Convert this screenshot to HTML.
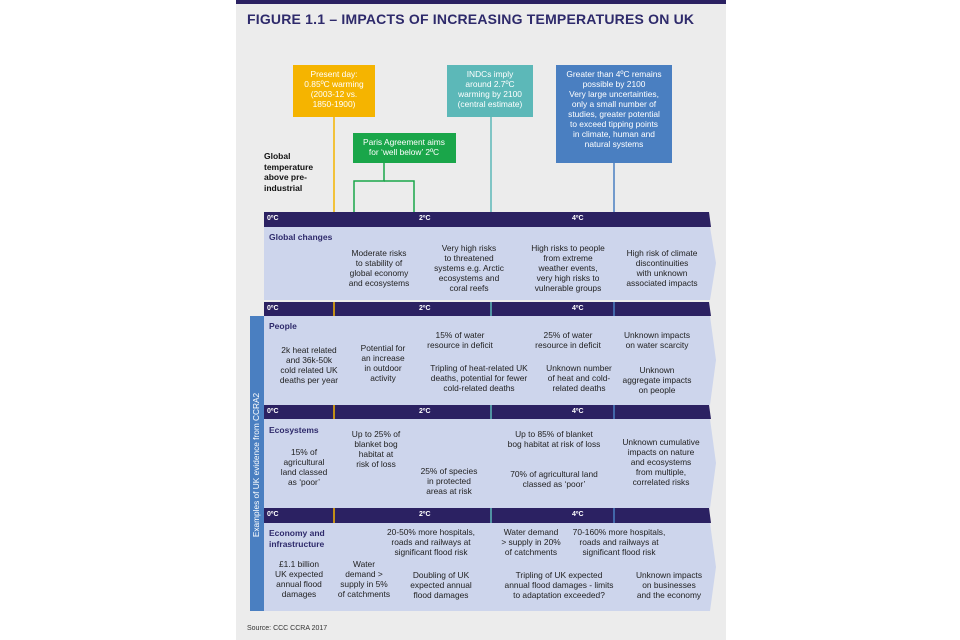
<!DOCTYPE html>
<html><head><meta charset="utf-8"><style>
html,body{margin:0;padding:0;background:#fff;}
body{width:960px;height:640px;position:relative;overflow:hidden;font-family:"Liberation Sans",Arial,sans-serif;}
.panel{position:absolute;left:236px;top:0;width:490px;height:640px;background:#ececec;}
svg{position:absolute;left:0;top:0;}
.t{position:absolute;transform:translateX(-50%);text-align:center;white-space:nowrap;font-size:8.4px;line-height:10px;color:#222;}
.w{color:#fff;}
.h{position:absolute;font-size:8.5px;font-weight:bold;color:#2e2a6b;line-height:10.5px;}
.b{position:absolute;font-size:7px;font-weight:bold;color:#fff;}
</style></head><body>
<div class="panel"></div>
<svg width="960" height="640">
<rect x="236" y="0" width="490" height="4" fill="#2b2162"/>
<line x1="334" y1="117" x2="334" y2="226" stroke="#f5b400" stroke-width="1.5"/>
<line x1="491" y1="117" x2="491" y2="226" stroke="#5cb8b8" stroke-width="1.5"/>
<line x1="614" y1="163" x2="614" y2="226" stroke="#4a7fc1" stroke-width="1.5"/>
<polyline points="384,163 384,181 354,181 354,212" fill="none" stroke="#1aa64a" stroke-width="1.5"/>
<polyline points="384,181 414,181 414,212" fill="none" stroke="#1aa64a" stroke-width="1.5"/>
<rect x="250" y="316" width="14" height="295" fill="#4a7fc1"/>
<polygon points="264,227 710,227 716,263 710,300 264,300" fill="#cdd5ec"/>
<polygon points="264,316 710,316 716,360 710,405 264,405" fill="#cdd5ec"/>
<polygon points="264,419 710,419 716,463 710,508 264,508" fill="#cdd5ec"/>
<polygon points="264,523 710,523 716,567 710,611 264,611" fill="#cdd5ec"/>
<g fill="#2b2162">
<polygon points="264,212 709,212 711,227 264,227"/>
<polygon points="264,302 709,302 711,316 264,316"/>
<polygon points="264,405 709,405 711,419 264,419"/>
<polygon points="264,508 709,508 711,523 264,523"/>
</g>
<g stroke-width="1.5">
<line x1="334" y1="302" x2="334" y2="316" stroke="#f5b400"/><line x1="491" y1="302" x2="491" y2="316" stroke="#5cb8b8"/><line x1="614" y1="302" x2="614" y2="316" stroke="#4a7fc1"/>
<line x1="334" y1="405" x2="334" y2="419" stroke="#f5b400"/><line x1="491" y1="405" x2="491" y2="419" stroke="#5cb8b8"/><line x1="614" y1="405" x2="614" y2="419" stroke="#4a7fc1"/>
<line x1="334" y1="508" x2="334" y2="523" stroke="#f5b400"/><line x1="491" y1="508" x2="491" y2="523" stroke="#5cb8b8"/><line x1="614" y1="508" x2="614" y2="523" stroke="#4a7fc1"/>
</g>
<rect x="293" y="65" width="82" height="52" fill="#f5b400"/>
<rect x="447" y="65" width="86" height="52" fill="#5cb8b8"/>
<rect x="556" y="65" width="116" height="98" fill="#4a7fc1"/>
<rect x="353" y="133" width="103" height="30" fill="#1aa64a"/>
<text x="257" y="465" transform="rotate(-90 257 465)" text-anchor="middle" dominant-baseline="middle" font-family="Liberation Sans, Arial, sans-serif" font-size="8.3" fill="#fff">Examples of UK evidence from CCRA2</text>
</svg>
<div style="position:absolute;left:247px;top:11px;font-size:14px;font-weight:bold;color:#2e2a6b;letter-spacing:0.2px;">FIGURE 1.1 – IMPACTS OF INCREASING TEMPERATURES ON UK</div>
<div class="t w" style="left:334px;top:69px;">Present day:<br>0.85ºC warming<br>(2003-12 vs.<br>1850-1900)</div>
<div class="t w" style="left:490px;top:69px;">INDCs imply<br>around 2.7ºC<br>warming by 2100<br>(central estimate)</div>
<div class="t w" style="left:614px;top:69px;">Greater than 4ºC remains<br>possible by 2100<br>Very large uncertainties,<br>only a small number of<br>studies, greater potential<br>to exceed tipping points<br>in climate, human and<br>natural systems</div>
<div class="t w" style="left:404px;top:137px;">Paris Agreement aims<br>for ‘well below’ 2ºC</div>
<div class="h" style="left:264px;top:151px;color:#111;">Global<br>temperature<br>above pre-<br>industrial</div>

<div class="b" style="left:267px;top:215px;">0ºC</div><div class="b" style="left:419px;top:215px;">2ºC</div><div class="b" style="left:572px;top:215px;">4ºC</div>
<div class="b" style="left:267px;top:305px;">0ºC</div><div class="b" style="left:419px;top:305px;">2ºC</div><div class="b" style="left:572px;top:305px;">4ºC</div>
<div class="b" style="left:267px;top:408px;">0ºC</div><div class="b" style="left:419px;top:408px;">2ºC</div><div class="b" style="left:572px;top:408px;">4ºC</div>
<div class="b" style="left:267px;top:511px;">0ºC</div><div class="b" style="left:419px;top:511px;">2ºC</div><div class="b" style="left:572px;top:511px;">4ºC</div>

<div class="h" style="left:269px;top:232px;">Global changes</div>
<div class="t" style="left:379px;top:248px;">Moderate risks<br>to stability of<br>global economy<br>and ecosystems</div>
<div class="t" style="left:469px;top:243px;">Very high risks<br>to threatened<br>systems e.g. Arctic<br>ecosystems and<br>coral reefs</div>
<div class="t" style="left:568px;top:243px;">High risks to people<br>from extreme<br>weather events,<br>very high risks to<br>vulnerable groups</div>
<div class="t" style="left:662px;top:248px;">High risk of climate<br>discontinuities<br>with unknown<br>associated impacts</div>

<div class="h" style="left:269px;top:321px;">People</div>
<div class="t" style="left:309px;top:345px;">2k heat related<br>and 36k-50k<br>cold related UK<br>deaths per year</div>
<div class="t" style="left:383px;top:343px;">Potential for<br>an increase<br>in outdoor<br>activity</div>
<div class="t" style="left:460px;top:330px;">15% of water<br>resource in deficit</div>
<div class="t" style="left:479px;top:363px;">Tripling of heat-related UK<br>deaths, potential for fewer<br>cold-related deaths</div>
<div class="t" style="left:568px;top:330px;">25% of water<br>resource in deficit</div>
<div class="t" style="left:579px;top:363px;">Unknown number<br>of heat and cold-<br>related deaths</div>
<div class="t" style="left:657px;top:330px;">Unknown impacts<br>on water scarcity</div>
<div class="t" style="left:657px;top:365px;">Unknown<br>aggregate impacts<br>on people</div>

<div class="h" style="left:269px;top:425px;">Ecosystems</div>
<div class="t" style="left:304px;top:447px;">15% of<br>agricultural<br>land classed<br>as ‘poor’</div>
<div class="t" style="left:376px;top:429px;">Up to 25% of<br>blanket bog<br>habitat at<br>risk of loss</div>
<div class="t" style="left:449px;top:466px;">25% of species<br>in protected<br>areas at risk</div>
<div class="t" style="left:554px;top:429px;">Up to 85% of blanket<br>bog habitat at risk of loss</div>
<div class="t" style="left:554px;top:469px;">70% of agricultural land<br>classed as ‘poor’</div>
<div class="t" style="left:661px;top:437px;">Unknown cumulative<br>impacts on nature<br>and ecosystems<br>from multiple,<br>correlated risks</div>

<div class="h" style="left:269px;top:528px;">Economy and<br>infrastructure</div>
<div class="t" style="left:431px;top:527px;">20-50% more hospitals,<br>roads and railways at<br>significant flood risk</div>
<div class="t" style="left:531px;top:527px;">Water demand<br>&gt; supply in 20%<br>of catchments</div>
<div class="t" style="left:619px;top:527px;">70-160% more hospitals,<br>roads and railways at<br>significant flood risk</div>
<div class="t" style="left:299px;top:559px;">£1.1 billion<br>UK expected<br>annual flood<br>damages</div>
<div class="t" style="left:364px;top:559px;">Water<br>demand &gt;<br>supply in 5%<br>of catchments</div>
<div class="t" style="left:441px;top:570px;">Doubling of UK<br>expected annual<br>flood damages</div>
<div class="t" style="left:559px;top:570px;">Tripling of UK expected<br>annual flood damages - limits<br>to adaptation exceeded?</div>
<div class="t" style="left:669px;top:570px;">Unknown impacts<br>on businesses<br>and the economy</div>

<div style="position:absolute;left:247px;top:625px;font-size:7px;color:#333;">Source: CCC CCRA 2017</div>
</body></html>
